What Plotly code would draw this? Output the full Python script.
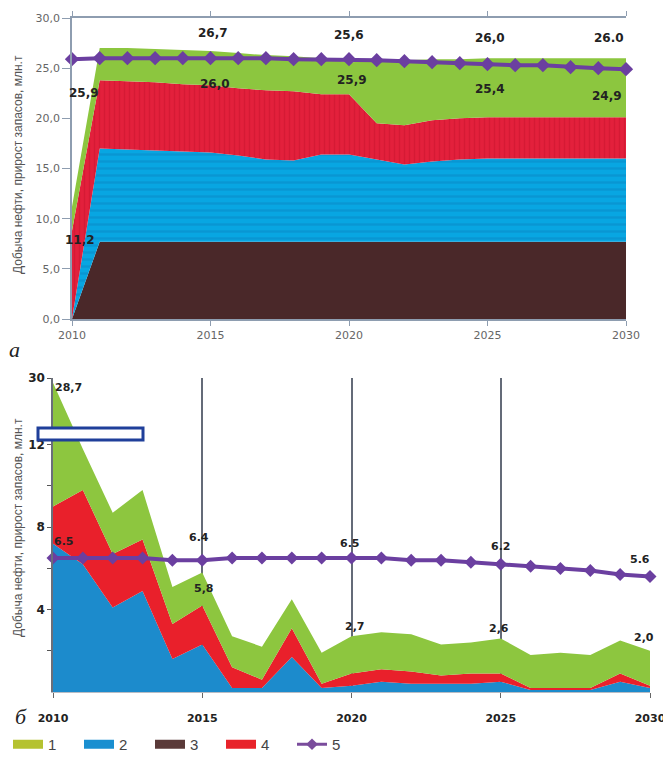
import plotly.graph_objects as go

# page body has an 8px margin; figure is sized to reach the 671x763 window edges
OFF = 8
FW, FH = 671 - OFF, 763 - OFF


def fx(px):
    return (px - OFF) / FW


def fy(py):
    return 1 - (py - OFF) / FH


# ---------------- data: chart (a) ----------------
years = list(range(2010, 2031))
a_brown = [0.0] + [7.7] * 20
a_blue = [0.0, 9.3, 9.2, 9.1, 9.0, 8.9, 8.6, 8.2, 8.1, 8.7, 8.7, 8.2, 7.7, 8.0, 8.2, 8.3, 8.3, 8.3, 8.3, 8.3, 8.3]
a_red = [8.8, 6.8, 6.8, 6.8, 6.7, 6.7, 6.7, 6.9, 6.9, 6.0, 6.0, 3.6, 3.9, 4.1, 4.1, 4.1, 4.1, 4.1, 4.1, 4.1, 4.1]
a_green = [2.4, 3.2, 3.3, 3.3, 3.4, 3.4, 3.5, 3.5, 3.5, 3.6, 3.2, 6.2, 6.5, 6.1, 5.9, 5.9, 5.9, 5.9, 5.9, 5.9, 5.9]
a_line = [25.9, 26.0, 26.0, 26.0, 26.0, 26.0, 26.0, 26.0, 25.9, 25.9, 25.9, 25.8, 25.7, 25.6, 25.5, 25.4, 25.3, 25.3, 25.1, 25.0, 24.9]
a_yticks = [0, 5, 10, 15, 20, 25, 30]
a_yticktext = ["0,0", "5,0", "10,0", "15,0", "20,0", "25,0", "30,0"]
a_xticks = [2010, 2015, 2020, 2025, 2030]

# total labels (above) and line labels (below)
a_total_lbl_years = [2015, 2020, 2025, 2030]
a_total_lbl_text = ["26,7", "25,6", "26,0", "26.0"]
a_line_lbl_years = [2010, 2015, 2020, 2025, 2030]
a_line_lbl_text = ["25,9", "26,0", "25,9", "25,4", "24,9"]

# ---------------- data: chart (б) ----------------
b_blue = [7.2, 6.2, 4.1, 4.9, 1.6, 2.3, 0.2, 0.2, 1.7, 0.2, 0.3, 0.5, 0.4, 0.4, 0.4, 0.5, 0.1, 0.1, 0.1, 0.5, 0.2]
b_red = [1.8, 3.6, 2.6, 2.5, 1.7, 1.9, 1.0, 0.4, 1.4, 0.2, 0.6, 0.6, 0.6, 0.4, 0.5, 0.4, 0.1, 0.1, 0.1, 0.4, 0.1]
b_green = [19.7, 2.0, 2.0, 2.4, 1.8, 1.6, 1.5, 1.6, 1.4, 1.5, 1.8, 1.8, 1.8, 1.5, 1.5, 1.7, 1.6, 1.7, 1.6, 1.6, 1.7]
b_line = [6.5, 6.5, 6.5, 6.5, 6.4, 6.4, 6.5, 6.5, 6.5, 6.5, 6.5, 6.5, 6.4, 6.4, 6.3, 6.2, 6.1, 6.0, 5.9, 5.7, 5.6]
b_ytick_vals = [2, 4, 6, 8, 10, 12, 14, 30]
b_ytick_text = ["", "4", "", "8", "", "12", "", "30"]
b_xticks = [2010, 2015, 2020, 2025, 2030]
b_top_ticks = [2012, 2014, 2016, 2018, 2022, 2024, 2026, 2028]

legend_names = ["1", "2", "3", "4", "5"]

# ---------------- colours ----------------
C_GREEN = "#8cc63f"
C_BLUE = "#08a6e2"
C_RED = "#e3203c"
C_BROWN = "#4a2829"
C_PURPLE = "#6b3fa0"
C_B_BLUE = "#1c8bcc"
C_B_RED = "#e9202b"
C_B_GREEN = "#8dc63f"

# broken axis for chart (б): linear to 12, compressed between 12 and 30
B_BREAK = 12.0
B_TOP_T = 15.24


def tr(v):
    if v <= B_BREAK:
        return v
    return B_BREAK + (v - B_BREAK) * (B_TOP_T - B_BREAK) / (30 - B_BREAK)


def cumsum_layers(*layers):
    out, run = [], [0.0] * len(layers[0])
    for lay in layers:
        run = [r + v for r, v in zip(run, lay)]
        out.append(run)
    return out


fig = go.Figure()

# ---------- chart (a) ----------
a_c1, a_c2, a_c3, a_c4 = cumsum_layers(a_brown, a_blue, a_red, a_green)
fig.add_trace(go.Scatter(x=years, y=a_c1, mode="lines", line=dict(width=0, color=C_BROWN),
                         fill="tozeroy", fillcolor=C_BROWN, showlegend=False, xaxis="x", yaxis="y"))
fig.add_trace(go.Scatter(x=years, y=a_c2, mode="lines", line=dict(width=0, color=C_BLUE),
                         fill="tonexty", fillcolor=C_BLUE,
                         fillpattern=dict(shape="-", fgcolor="#0a86c4", bgcolor=C_BLUE, size=7, solidity=0.35),
                         showlegend=False, xaxis="x", yaxis="y"))
fig.add_trace(go.Scatter(x=years, y=a_c3, mode="lines", line=dict(width=0, color=C_RED),
                         fill="tonexty", fillcolor=C_RED,
                         fillpattern=dict(shape="|", fgcolor="#c8142e", bgcolor=C_RED, size=5, solidity=0.3),
                         showlegend=False, xaxis="x", yaxis="y"))
fig.add_trace(go.Scatter(x=years, y=a_c4, mode="lines", line=dict(width=0, color=C_GREEN),
                         fill="tonexty", fillcolor=C_GREEN, showlegend=False, xaxis="x", yaxis="y"))
fig.add_trace(go.Scatter(x=years, y=a_line, mode="lines+markers",
                         line=dict(color=C_PURPLE, width=4),
                         marker=dict(symbol="diamond", size=11, color=C_PURPLE),
                         cliponaxis=False, showlegend=False, xaxis="x", yaxis="y"))

# ---------- chart (б) ----------
b_c1, b_c2, b_c3 = cumsum_layers(b_blue, b_red, b_green)
fig.add_trace(go.Scatter(x=years, y=[tr(v) for v in b_c1], mode="lines", line=dict(width=0, color=C_B_BLUE),
                         fill="tozeroy", fillcolor=C_B_BLUE, showlegend=False, xaxis="x3", yaxis="y3"))
fig.add_trace(go.Scatter(x=years, y=[tr(v) for v in b_c2], mode="lines", line=dict(width=0, color=C_B_RED),
                         fill="tonexty", fillcolor=C_B_RED, showlegend=False, xaxis="x3", yaxis="y3"))
fig.add_trace(go.Scatter(x=years, y=[tr(v) for v in b_c3], mode="lines", line=dict(width=0, color=C_B_GREEN),
                         fill="tonexty", fillcolor=C_B_GREEN, showlegend=False, xaxis="x3", yaxis="y3"))
fig.add_trace(go.Scatter(x=years, y=[tr(v) for v in b_line], mode="lines+markers",
                         line=dict(color=C_PURPLE, width=4),
                         marker=dict(symbol="diamond", size=10, color=C_PURPLE),
                         cliponaxis=False, showlegend=False, xaxis="x3", yaxis="y3"))

# ---------- legend entries ----------
leg_colors = ["#b5c230", "#1a8fd0", "#5a3a39", "#e8232a"]
for name, col in zip(legend_names[:4], leg_colors):
    fig.add_trace(go.Scatter(x=[None], y=[None], mode="lines", name=name,
                             line=dict(color=col, width=9), xaxis="x", yaxis="y"))
fig.add_trace(go.Scatter(x=[None], y=[None], mode="lines+markers", name=legend_names[4],
                         line=dict(color="#7a4c9c", width=3),
                         marker=dict(symbol="diamond", size=9, color="#7a4c9c"), xaxis="x", yaxis="y"))

# ---------- annotations ----------
ann = []
lbl_font = dict(family="DejaVu Sans", size=12, color="#222222")
ish = {2010: 12, 2015: 2, 2020: 0, 2025: 2, 2030: -17}
tot_shift = {2015: 18, 2020: 27, 2025: 20, 2030: 20}
for yr, txt in zip(a_total_lbl_years, a_total_lbl_text):
    i = years.index(yr)
    ann.append(dict(x=yr, y=a_c4[i], xref="x", yref="y", text="<b>" + txt + "</b>", showarrow=False,
                    xshift=ish[yr], yshift=tot_shift[yr], font=lbl_font))
line_shift = {2010: -34, 2015: -26, 2020: -21, 2025: -25, 2030: -27}
line_xs = {2010: 12, 2015: 4, 2020: 3, 2025: 2, 2030: -19}
for yr, txt in zip(a_line_lbl_years, a_line_lbl_text):
    i = years.index(yr)
    ann.append(dict(x=yr, y=a_line[i], xref="x", yref="y", text="<b>" + txt + "</b>", showarrow=False,
                    xshift=line_xs[yr], yshift=line_shift[yr], font=lbl_font))
ann.append(dict(x=2010, y=a_c4[0], xref="x", yref="y", text="<b>11,2</b>", showarrow=False,
                xshift=8, yshift=-33, font=lbl_font))

b_font = dict(family="DejaVu Sans", size=11, color="#222222")
b_line_lbl = [(2010, "6.5", 11, 17), (2015, "6.4", -3, 23), (2020, "6.5", -2, 15), (2025, "6.2", 0, 18), (2030, "5.6", -10, 17)]
for yr, txt, xs, ys in b_line_lbl:
    i = years.index(yr)
    ann.append(dict(x=yr, y=tr(b_line[i]), xref="x3", yref="y3", text="<b>" + txt + "</b>", showarrow=False,
                    xshift=xs, yshift=ys, font=b_font))
b_tot_lbl = [(2010, "28,7", 15, -5), (2015, "5,8", 2, -16), (2020, "2,7", 3, 10), (2025, "2,6", -2, 10), (2030, "2,0", -6, 13)]
for yr, txt, xs, ys in b_tot_lbl:
    i = years.index(yr)
    ann.append(dict(x=yr, y=tr(b_c3[i]), xref="x3", yref="y3", text="<b>" + txt + "</b>", showarrow=False,
                    xshift=xs, yshift=ys, font=b_font))

title_text = "Добыча нефти, прирост запасов, млн.т"
title_font = dict(family="Liberation Sans", size=12, color="#555555")
ann.append(dict(x=fx(18), y=fy(165), xref="paper", yref="paper", text=title_text, textangle=-90,
                xanchor="center", yanchor="middle", showarrow=False, font=title_font))
ann.append(dict(x=fx(18), y=fy(528), xref="paper", yref="paper", text=title_text, textangle=-90,
                xanchor="center", yanchor="middle", showarrow=False, font=title_font))
ann.append(dict(x=fx(14), y=fy(350), xref="paper", yref="paper", text="<i>а</i>",
                xanchor="center", yanchor="middle",
                showarrow=False, font=dict(family="Liberation Serif", size=22, color="#222222")))
ann.append(dict(x=fx(21), y=fy(716), xref="paper", yref="paper", text="<i>б</i>",
                xanchor="center", yanchor="middle",
                showarrow=False, font=dict(family="Liberation Serif", size=22, color="#222222")))

shapes = [dict(type="rect", xref="paper", yref="paper", x0=fx(38), x1=fx(143), y0=fy(440), y1=fy(428),
               line=dict(color="#1f3f9a", width=3), fillcolor="white", layer="above")]

ax_col = "#8e9db0"
tick_font = dict(family="DejaVu Sans", size=11, color="#666666")
b_tick_font = dict(family="DejaVu Sans", size=11, color="#222222", weight="bold")

fig.update_layout(
    width=FW, height=FH,
    margin=dict(l=0, r=0, t=0, b=0, autoexpand=False),
    paper_bgcolor="white", plot_bgcolor="rgba(0,0,0,0)",
    annotations=ann, shapes=shapes,
    xaxis=dict(domain=[fx(72), fx(626)], range=[2010, 2030], anchor="y", automargin=False,
               tickvals=a_xticks, ticks="outside", ticklen=5, tickcolor=ax_col,
               showline=True, linecolor=ax_col, linewidth=1.5, mirror="ticks",
               showgrid=False, zeroline=False, tickfont=tick_font),
    yaxis=dict(domain=[fy(319), fy(18)], range=[0, 30], anchor="x", automargin=False,
               tickvals=a_yticks, ticktext=a_yticktext, ticks="outside", ticklen=8, tickcolor=ax_col,
               showline=True, linecolor=ax_col, linewidth=1.5,
               showgrid=False, zeroline=False, tickfont=tick_font),
    yaxis2=dict(overlaying="y", side="right", anchor="x", range=[0, 30], automargin=False,
                tickvals=a_yticks, ticktext=a_yticktext, ticks="outside", ticklen=6, tickcolor=ax_col,
                showline=True, linecolor=ax_col, linewidth=1.5,
                showgrid=False, zeroline=False, tickfont=tick_font),
    xaxis3=dict(domain=[fx(53), fx(650)], range=[2010, 2030], anchor="y3", automargin=False,
                tickvals=b_xticks, ticks="outside", ticklen=5, tickcolor="#666",
                showline=True, linecolor="#b8bcc4", linewidth=1,
                showgrid=True, gridcolor="#646b78", gridwidth=1.5, zeroline=False,
                tickfont=b_tick_font, tickformat="d", ticklabelstandoff=11),
    xaxis4=dict(overlaying="x3", side="top", anchor="y3", range=[2010, 2030], automargin=False,
                tickvals=b_top_ticks, ticktext=[""] * len(b_top_ticks), ticks="outside", ticklen=5,
                tickcolor="#6a6f7a", showline=True, linecolor="#6a6f7a", linewidth=1.5,
                showgrid=False, zeroline=False),
    yaxis3=dict(domain=[fy(692), fy(378)], range=[0, B_TOP_T], anchor="x3", automargin=False,
                tickvals=[tr(v) for v in b_ytick_vals], ticktext=b_ytick_text,
                ticks="outside", ticklen=4, tickcolor="#555",
                showline=True, linecolor="#6a6f7a", linewidth=1.5,
                showgrid=False, zeroline=False,
                tickfont=dict(family="DejaVu Sans", size=12, color="#222222", weight="bold")),
    yaxis4=dict(overlaying="y3", side="right", anchor="x3", range=[0, B_TOP_T], automargin=False,
                tickvals=[tr(v) for v in b_ytick_vals[:-1]], ticktext=[""] * (len(b_ytick_vals) - 1),
                ticks="outside", ticklen=5, tickcolor="#6a6f7a",
                showline=True, linecolor="#6a6f7a", linewidth=1.5,
                showgrid=False, zeroline=False),
    legend=dict(orientation="h", x=0, y=fy(728), xanchor="left", yanchor="top",
                traceorder="normal",
                font=dict(family="Liberation Sans", size=15, color="#444444"),
                entrywidth=26, entrywidthmode="pixels", itemwidth=30,
                bgcolor="rgba(0,0,0,0)"),
    showlegend=True,
)

fig.write_html("out.html")
